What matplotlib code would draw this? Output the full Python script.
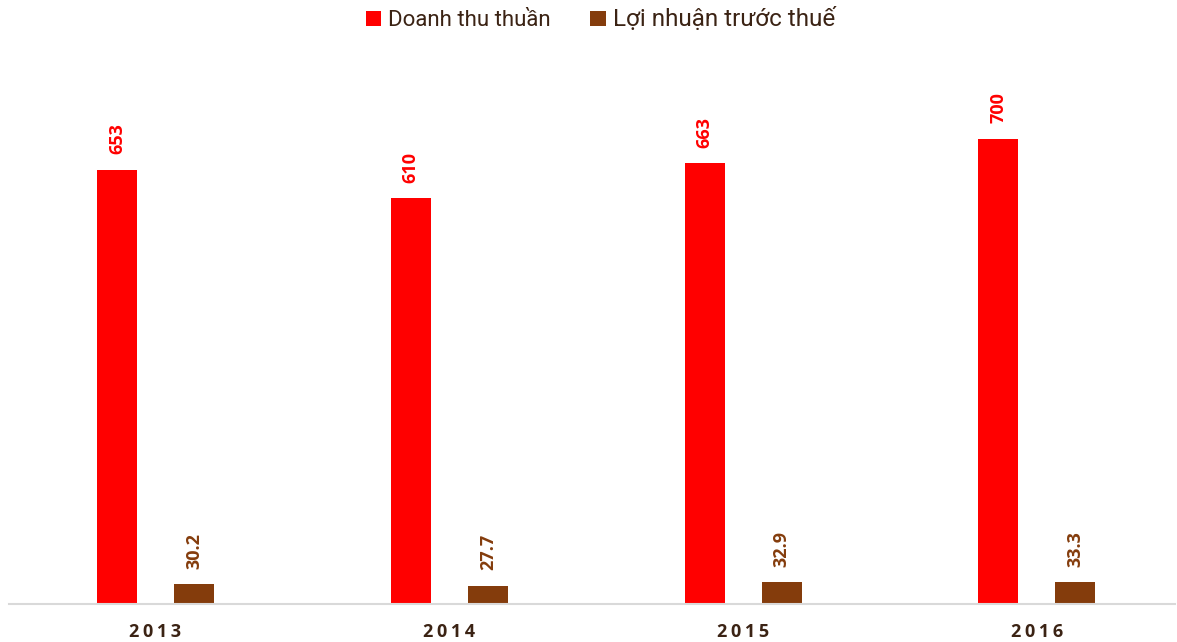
import matplotlib.pyplot as plt
import numpy as np

plt.rcParams['font.family'] = ['Open Sans', 'DejaVu Sans']

years = ['2013', '2014', '2015', '2016']
doanh_thu = [653, 610, 663, 700]
loi_nhuan = [30.2, 27.7, 32.9, 33.3]

red = '#FF0000'
brown = '#843C0C'
dark = '#3B2314'

fig = plt.figure(figsize=(11.77, 6.42), dpi=100)
ax = fig.add_axes([8.6 / 1177, (642 - 604) / 642, (1175 - 8.6) / 1177, (604 - 40) / 642])

x = np.arange(len(years))
off = 0.131
w = 0.136
b1 = ax.bar(x - off, doanh_thu, w, color=red, label='Doanh thu thuần')
b2 = ax.bar(x + off, loi_nhuan, w, color=brown, label='Lợi nhuận trước thuế')

# nhãn giá trị, xoay dọc
for bars, vals, c in [(b1, doanh_thu, red), (b2, loi_nhuan, brown)]:
    for r, v in zip(bars, vals):
        ax.annotate(f'{v:g}', (r.get_x() + r.get_width() / 2, r.get_height()),
                    xytext=(0, 11), textcoords='offset points', rotation=90,
                    ha='center', va='bottom', color=c, fontsize=13, fontweight='bold')

ax.set_xlim(-0.5, -0.5 + (1175 - 8.6) / 293.8)
ax.set_ylim(0, (604 - 40) / 0.665)
ax.set_xticks(x)
ax.set_xticklabels(['\u2009'.join(y) for y in years], fontsize=13, fontweight='bold', color=dark)
ax.tick_params(axis='x', length=0, pad=14)
ax.set_yticks([])
for s in ['top', 'right', 'left']:
    ax.spines[s].set_visible(False)
ax.spines['bottom'].set_color('#D9D9D9')
ax.spines['bottom'].set_linewidth(1.5)

leg = fig.legend(handles=[b1, b2], loc='upper center', bbox_to_anchor=(0.51, 1.02), ncol=2,
                 frameon=False, handlelength=0.7, handleheight=0.7,
                 handletextpad=0.3, columnspacing=1.8, prop={'family': 'Roboto', 'size': 16})
leg.get_texts()[1].set_fontsize(17.5)
for t in leg.get_texts():
    t.set_color(dark)

fig.savefig('out.png', dpi=100)
